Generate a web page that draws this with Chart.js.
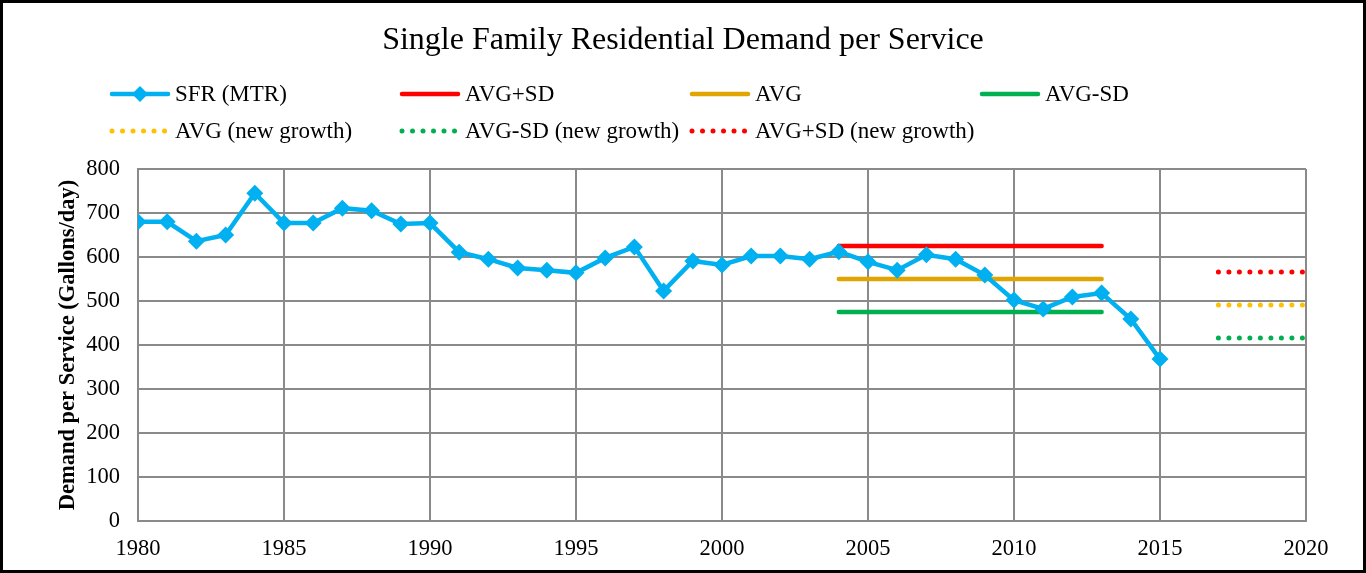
<!DOCTYPE html>
<html>
<head>
<meta charset="utf-8">
<script src="https://cdn.jsdelivr.net/npm/chart.js@4.4.1/dist/chart.umd.min.js"></script>
<style>
  body { margin: 0; background: #fff; }
  #wrap { position: relative; width: 1366px; height: 573px; }
</style>
</head>
<body>
<div id="wrap"><canvas id="chart" width="1366" height="573"></canvas></div>
<script>
// Data
const years = [1980, 1981, 1982, 1983, 1984, 1985, 1986, 1987, 1988, 1989,
               1990, 1991, 1992, 1993, 1994, 1995, 1996, 1997, 1998, 1999,
               2000, 2001, 2002, 2003, 2004, 2005, 2006, 2007, 2008, 2009,
               2010, 2011, 2012, 2013, 2014, 2015];
const sfrDemand = [680, 680, 636, 650, 745, 677, 677, 711, 705, 675,
                   677, 611, 595, 575, 570, 564, 598, 623, 523, 591,
                   582, 602, 602, 595, 612, 589, 570, 605, 595, 559,
                   502, 482, 509, 518, 459, 368];

const avgYears = [2004, 2013];
const avgPlusSd = 625;
const avgValue = 550;
const avgMinusSd = 475;

const growthYears = [2017, 2020];
const growthAvg = 491;
const growthMinusSd = 416;
const growthPlusSd = 566;

const seriesNames = ['SFR (MTR)', 'AVG+SD', 'AVG', 'AVG-SD',
                     'AVG (new growth)', 'AVG-SD (new growth)', 'AVG+SD (new growth)'];
const seriesColors = ['#00B0F0', '#FF0000', '#E0A500', '#00B050',
                      '#FFC000', '#00B050', '#FF0000'];

const serif = '"Liberation Serif", "Times New Roman", serif';

// helper: flat line between two years
function flat(xs, v) {
    return xs.map(x => ({ x: x, y: v }));
}

const sfrPoints = years.map((y, i) => ({ x: y, y: sfrDemand[i] }));

const solid = (name, color, data) => ({
    label: name, data: data, borderColor: color, backgroundColor: color,
    borderWidth: 4.5, pointRadius: 0, borderCapStyle: 'round'
});
const dotted = (name, color, data) => ({
    label: name, data: data, borderColor: color, backgroundColor: color,
    borderWidth: 5, pointRadius: 0, borderCapStyle: 'round', borderDash: [0, 10.5]
});

// Title, legend and frame drawn by hand so the layout matches the Excel chart
const decorPlugin = {
    id: 'decor',
    afterDraw(chart) {
        const ctx = chart.ctx;
        ctx.save();
        ctx.fillStyle = '#000';
        ctx.font = '32px ' + serif;
        ctx.textAlign = 'center';
        ctx.textBaseline = 'middle';
        ctx.fillText('Single Family Residential Demand per Service', 683, 41);

        // legend: 4 columns, 2 rows
        const colX = [110, 400, 690, 980];
        const rowY = [94, 131];
        ctx.font = '23px ' + serif;
        ctx.textAlign = 'left';
        chart.data.datasets.forEach((ds, i) => {
            const x = colX[i % 4];
            const y = rowY[Math.floor(i / 4)];
            ctx.strokeStyle = ds.borderColor;
            ctx.fillStyle = ds.borderColor;
            ctx.lineWidth = 4.5;
            ctx.lineCap = 'round';
            if (ds.borderDash) {
                for (let k = 0; k < 6; k++) {
                    ctx.beginPath();
                    ctx.arc(x + 2 + k * 10.5, y, 2.5, 0, Math.PI * 2);
                    ctx.fill();
                }
            } else {
                ctx.beginPath();
                ctx.moveTo(x + 2, y);
                ctx.lineTo(x + 58, y);
                ctx.stroke();
                if (ds.pointStyle) {
                    ctx.beginPath();
                    ctx.moveTo(x + 30, y - 8);
                    ctx.lineTo(x + 38, y);
                    ctx.lineTo(x + 30, y + 8);
                    ctx.lineTo(x + 22, y);
                    ctx.closePath();
                    ctx.fill();
                }
            }
            ctx.fillStyle = '#000';
            ctx.fillText(ds.label, x + 65, y + 1);
        });

        // outer frame
        ctx.strokeStyle = '#000';
        ctx.lineWidth = 3;
        ctx.strokeRect(1.5, 1.5, 1363, 570);
        ctx.restore();
    }
};

new Chart(document.getElementById('chart'), {
    type: 'line',
    data: {
        datasets: [
            {
                label: seriesNames[0], data: sfrPoints,
                borderColor: seriesColors[0], backgroundColor: seriesColors[0],
                borderWidth: 4.5, pointStyle: 'rectRot', pointRadius: 8.5,
                pointBorderWidth: 0, pointHoverRadius: 8.5
            },
            solid(seriesNames[1], seriesColors[1], flat(avgYears, avgPlusSd)),
            solid(seriesNames[2], seriesColors[2], flat(avgYears, avgValue)),
            solid(seriesNames[3], seriesColors[3], flat(avgYears, avgMinusSd)),
            dotted(seriesNames[4], seriesColors[4], flat(growthYears, growthAvg)),
            dotted(seriesNames[5], seriesColors[5], flat(growthYears, growthMinusSd)),
            dotted(seriesNames[6], seriesColors[6], flat(growthYears, growthPlusSd))
        ]
    },
    options: {
        responsive: false,
        animation: false,
        layout: { padding: { top: 169, left: 53, right: 60, bottom: 3 } },
        plugins: {
            legend: { display: false },
            title: { display: false },
            tooltip: { enabled: false }
        },
        scales: {
            x: {
                type: 'linear', min: 1980, max: 2020,
                afterFit(scale) { scale.height = 49; },
                ticks: { stepSize: 5, color: '#000', padding: 15,
                         font: { family: serif, size: 22.5 },
                         callback: v => String(v) },
                grid: { color: '#8a8a8a', lineWidth: 2, drawTicks: false },
                border: { color: '#8a8a8a', width: 2 }
            },
            y: {
                min: 0, max: 800,
                afterFit(scale) { scale.width = 85; },
                ticks: { stepSize: 100, color: '#000', padding: 18,
                         font: { family: serif, size: 22.5 } },
                grid: { color: '#8a8a8a', lineWidth: 2, drawTicks: false },
                border: { color: '#8a8a8a', width: 2 },
                title: { display: true, text: 'Demand per Service (Gallons/day)',
                         color: '#000', padding: { top: 2, bottom: 0 },
                         font: { family: serif, size: 22.5, weight: 'bold' } }
            }
        }
    },
    plugins: [decorPlugin]
});
</script>
</body>
</html>
